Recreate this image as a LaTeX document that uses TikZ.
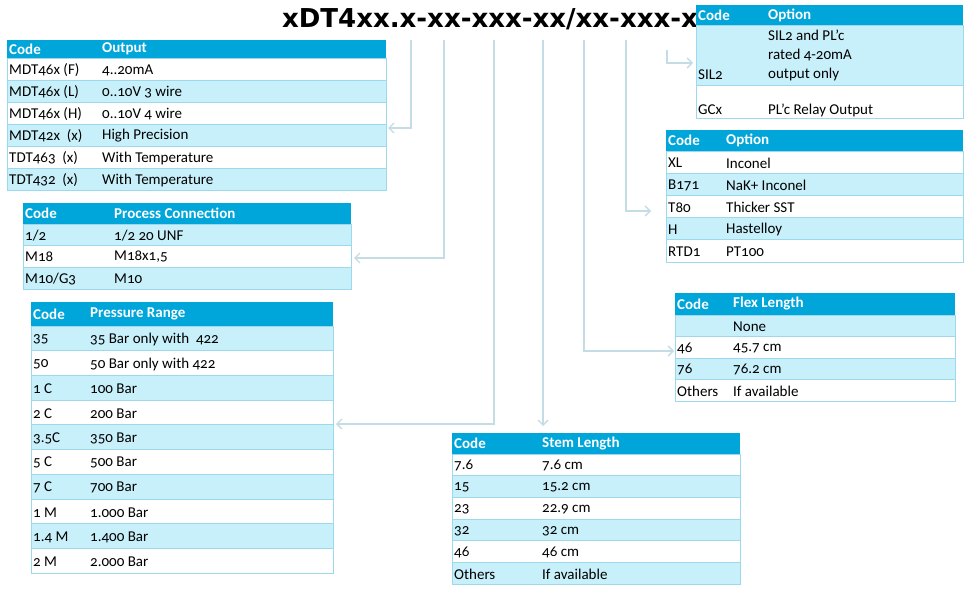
\documentclass[tikz,border=0pt]{standalone}
\usepackage{fontspec}
\setmainfont{Carlito}[Numbers=OldStyle]
\newfontfamily\titlefont{DejaVu Sans}
\usetikzlibrary{arrows.meta}
\definecolor{hdr}{HTML}{00A5DA}
\definecolor{lt}{HTML}{C8F0FB}
\definecolor{rl}{HTML}{9CD9EC}
\definecolor{con}{HTML}{C4DCE3}
\tikzset{
  cell/.style={anchor=west,inner sep=0pt,font=\fontsize{15}{17}\selectfont},
  hcell/.style={cell,text=white,font=\fontsize{15}{17}\selectfont\bfseries},
  conn/.style={draw=con,line width=1.3pt,-{Straight Barb[length=5pt,width=10pt]}},
}
% \trow{x1}{x2}{y1}{y2}{fill}{col2x}{code}{text}
\newcommand\trow[8]{%
  \path[fill=#5,draw=rl,line width=0.8pt] (#1,#3) rectangle (#2,#4);
  \node[cell] at ({#1+2},{(#3+#4)/2+1}) {#7};
  \node[cell] at (#6,{(#3+#4)/2+1}) {#8};}
\newcommand\thdr[6]{%
  \path[fill=hdr] (#1,#3) rectangle (#2,#4);
  \node[hcell] at ({#1+2},{(#3+#4)/2}) {Code};
  \node[hcell] at (#5,{(#3+#4)/2}) {#6};}
\begin{document}
\begin{tikzpicture}[x=1pt,y=-1pt]
\useasboundingbox (0,0) rectangle (968,594);
\fill[white] (0,0) rectangle (968,594);
\node[font=\titlefont\bfseries\fontsize{26}{28}\selectfont,inner sep=0pt] (title) at (490,19) {xDT4xx.x-xx-xxx-xx/xx-xxx-x};
% Output
\thdr{7}{386}{40}{58}{102}{Output}
\trow{7}{386}{58}{80}{white}{102}{MDT46x (F)}{4..20mA}
\trow{7}{386}{80}{102}{lt}{102}{MDT46x (L)}{0..10V 3 wire}
\trow{7}{386}{102}{124}{white}{102}{MDT46x (H)}{0..10V 4 wire}
\trow{7}{386}{124}{146}{lt}{102}{MDT42x\ \ (x)}{High Precision}
\trow{7}{386}{146}{168}{white}{102}{TDT463\ \ (x)}{With Temperature}
\trow{7}{386}{168}{190}{lt}{102}{TDT432\ \ (x)}{With Temperature}
\coordinate (tOut) at (388,128);
% Process
\thdr{23}{351}{203}{224}{114}{Process Connection}
\trow{23}{351}{224}{245}{lt}{114}{1/2}{1/2 20 UNF}
\trow{23}{351}{245}{267}{white}{114}{M18}{M18x1,5}
\trow{23}{351}{267}{289}{lt}{114}{M10/G3}{M10}
\coordinate (tProc) at (354,258);
% Pressure
\thdr{31}{333}{302}{326}{90}{Pressure Range}
\trow{31}{333}{326}{350.7}{lt}{90}{35}{35 Bar only with\ \ 422}
\trow{31}{333}{350.7}{375.4}{white}{90}{50}{50 Bar only with 422}
\trow{31}{333}{375.4}{400.1}{lt}{90}{1 C}{100 Bar}
\trow{31}{333}{400.1}{424.8}{white}{90}{2 C}{200 Bar}
\trow{31}{333}{424.8}{449.5}{lt}{90}{3.5C}{350 Bar}
\trow{31}{333}{449.5}{474.2}{white}{90}{5 C}{500 Bar}
\trow{31}{333}{474.2}{498.9}{lt}{90}{7 C}{700 Bar}
\trow{31}{333}{498.9}{523.6}{white}{90}{1 M}{1.000 Bar}
\trow{31}{333}{523.6}{548.3}{lt}{90}{1.4 M}{1.400 Bar}
\trow{31}{333}{548.3}{573}{white}{90}{2 M}{2.000 Bar}
\coordinate (tPres) at (336,424);
% Stem
\thdr{452}{740}{433}{454}{542}{Stem Length}
\trow{452}{740}{454}{475.7}{white}{542}{7.6}{7.6 cm}
\trow{452}{740}{475.7}{497.4}{lt}{542}{15}{15.2 cm}
\trow{452}{740}{497.4}{519.1}{white}{542}{23}{22.9 cm}
\trow{452}{740}{519.1}{540.8}{lt}{542}{32}{32 cm}
\trow{452}{740}{540.8}{562.5}{white}{542}{46}{46 cm}
\trow{452}{740}{562.5}{584}{lt}{542}{Others}{If available}
\coordinate (tStem) at (543,426);
% Flex
\thdr{675}{955}{293}{315}{733}{Flex Length}
\trow{675}{955}{315}{336.5}{lt}{733}{}{None}
\trow{675}{955}{336.5}{358}{white}{733}{46}{45.7 cm}
\trow{675}{955}{358}{379.5}{lt}{733}{76}{76.2 cm}
\trow{675}{955}{379.5}{401}{white}{733}{Others}{If available}
\coordinate (tFlex) at (674,351);
% Option 1
\thdr{696}{963}{5}{25}{768}{Option}
\path[fill=lt,draw=rl,line width=0.8pt] (696,25) rectangle (963,85);
\node[cell] at (698,75) {SIL2};
\node[cell] at (768,35) {SIL2 and PL’c};
\node[cell] at (768,55) {rated 4-20mA};
\node[cell] at (768,75) {output only};
\path[fill=white,draw=rl,line width=0.8pt] (696,85) rectangle (963,118);
\node[cell] at (698,110) {GCx};
\node[cell] at (768,110) {PL’c Relay Output};
\coordinate (tOpt1) at (693,63);
% Option 2
\thdr{666}{963}{130}{151}{726}{Option}
\trow{666}{963}{151}{173.2}{white}{726}{XL}{Inconel}
\trow{666}{963}{173.2}{195.4}{lt}{726}{B171}{NaK+ Inconel}
\trow{666}{963}{195.4}{217.6}{white}{726}{T80}{Thicker SST}
\trow{666}{963}{217.6}{239.8}{lt}{726}{H}{Hastelloy}
\trow{666}{963}{239.8}{262}{white}{726}{RTD1}{PT100}
\coordinate (tOpt2) at (651,211);
% connectors
\coordinate (s1) at (411,40); \coordinate (s2) at (444,40);
\coordinate (s3) at (494,40); \coordinate (s4) at (543,40);
\coordinate (s5) at (584,40); \coordinate (s6) at (626,40);
\coordinate (s7) at (667,50);
\draw[conn] (s1) |- (tOut);
\draw[conn] (s2) |- (tProc);
\draw[conn] (s3) |- (tPres);
\draw[conn] (s4) -- (tStem);
\draw[conn] (s5) |- (tFlex);
\draw[conn] (s6) |- (tOpt2);
\draw[conn] (s7) |- (tOpt1);
\end{tikzpicture}
\end{document}
